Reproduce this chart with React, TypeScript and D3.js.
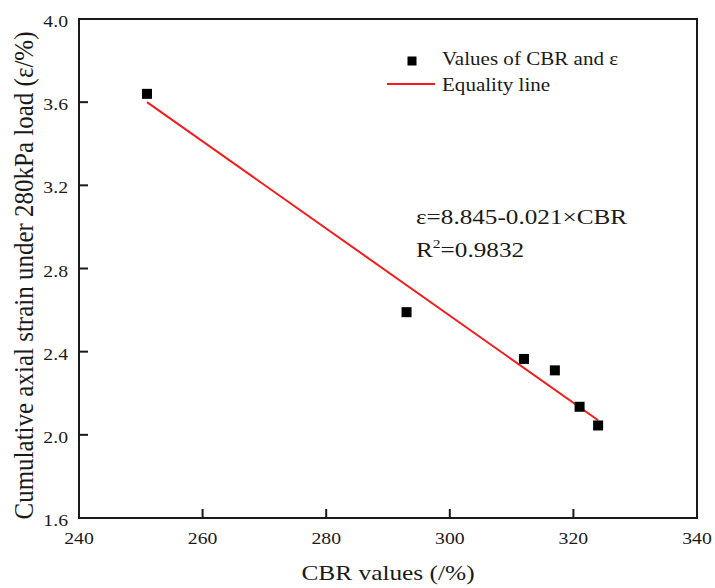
import React from 'react';
import * as d3 from 'd3';

// values
const cbrValues = [251, 293, 312, 317, 321, 324];
const strainValues = [3.64, 2.59, 2.365, 2.31, 2.135, 2.045];
const fitCbr = [251, 324];
const fitStrain = [3.6, 2.07];
const xTicks = [240, 260, 280, 300, 320, 340];
const yTicks = [1.6, 2.0, 2.4, 2.8, 3.2, 3.6, 4.0];

const W = 715;
const H = 588;
const FONT = '"Liberation Serif", "Times New Roman", serif';
const INK = '#1a1a1a';
const RED = '#f41c1c';

// the reference glyphs look a bit wider than tall, so text gets a small x stretch
const Txt = ({ x, y, size, sx = 1.16, anchor = 'start', children }: any) => (
  <text
    transform={`translate(${x},${y}) scale(${sx},1)`}
    fontFamily={FONT}
    fontSize={size}
    fill={INK}
    textAnchor={anchor}
  >
    {children}
  </text>
);

const App = () => {
  const x = d3.scaleLinear().domain([240, 340]).range([79, 697]);
  const y = d3.scaleLinear().domain([1.6, 4.0]).range([518, 19]);

  const fitPts = fitCbr.map((c, i) => [c, fitStrain[i]] as [number, number]);
  const line = d3.line<[number, number]>()
    .x(d => x(d[0]))
    .y(d => y(d[1]));

  const sq = 10;
  const [x0, x1] = x.range();
  const [y0, y1] = y.range();

  return (
    <svg
      width={W}
      height={H}
      viewBox={`0 0 ${W} ${H}`}
      style={{ position: 'absolute', left: 0, top: 0, background: '#fff' }}
    >
      {/* ticks, pointing inward */}
      {xTicks.map(t => (
        <g key={'x' + t}>
          <line x1={x(t)} x2={x(t)} y1={y0} y2={y0 - 9} stroke={INK} strokeWidth={2} />
          <Txt x={x(t)} y={y0 + 26} size={17} anchor="middle">{t}</Txt>
        </g>
      ))}
      {yTicks.map(t => (
        <g key={'y' + t}>
          <line x1={x0} x2={x0 + 9} y1={y(t)} y2={y(t)} stroke={INK} strokeWidth={2} />
          <Txt x={68} y={y(t) + 8} size={17} anchor="end">{d3.format('.1f')(t)}</Txt>
        </g>
      ))}

      {/* frame */}
      <rect x={x0} y={y1} width={x1 - x0} height={y0 - y1} fill="none" stroke={INK} strokeWidth={2} />

      {/* fitted line */}
      <path d={line(fitPts) || ''} fill="none" stroke={RED} strokeWidth={2} />

      {/* data points */}
      {cbrValues.map((c, i) => (
        <rect
          key={'p' + i}
          x={x(c) - sq / 2}
          y={y(strainValues[i]) - sq / 2}
          width={sq}
          height={sq}
          fill="#000"
        />
      ))}

      {/* legend */}
      <rect x={407.5} y={56.5} width={9} height={9} fill="#000" />
      <Txt x={442} y={65} size={18} sx={1.17}>Values of CBR and ε</Txt>
      <line x1={387} x2={435} y1={84} y2={84} stroke={RED} strokeWidth={2} />
      <Txt x={442} y={91} size={18} sx={1.17}>Equality line</Txt>

      {/* fit equation */}
      <Txt x={416} y={224} size={21} sx={1.2}>ε=8.845-0.021×CBR</Txt>
      <text
        transform={`translate(416,257) scale(1.2,1)`}
        fontFamily={FONT}
        fontSize={21}
        fill={INK}
      >
        R<tspan fontSize={13} dy={-9}>2</tspan><tspan dy={9}>=0.9832</tspan>
      </text>

      {/* axis titles */}
      <Txt x={(x0 + x1) / 2} y={580} size={21.5} sx={1.18} anchor="middle">CBR values (/%)</Txt>
      <text
        transform={`translate(33,${(y0 + y1) / 2 + 7}) rotate(-90) scale(1,1.12)`}
        fontFamily={FONT}
        fontSize={25}
        fill={INK}
        textAnchor="middle"
      >
        Cumulative axial strain under 280kPa load (ε/%)
      </text>
    </svg>
  );
};

export default App;
